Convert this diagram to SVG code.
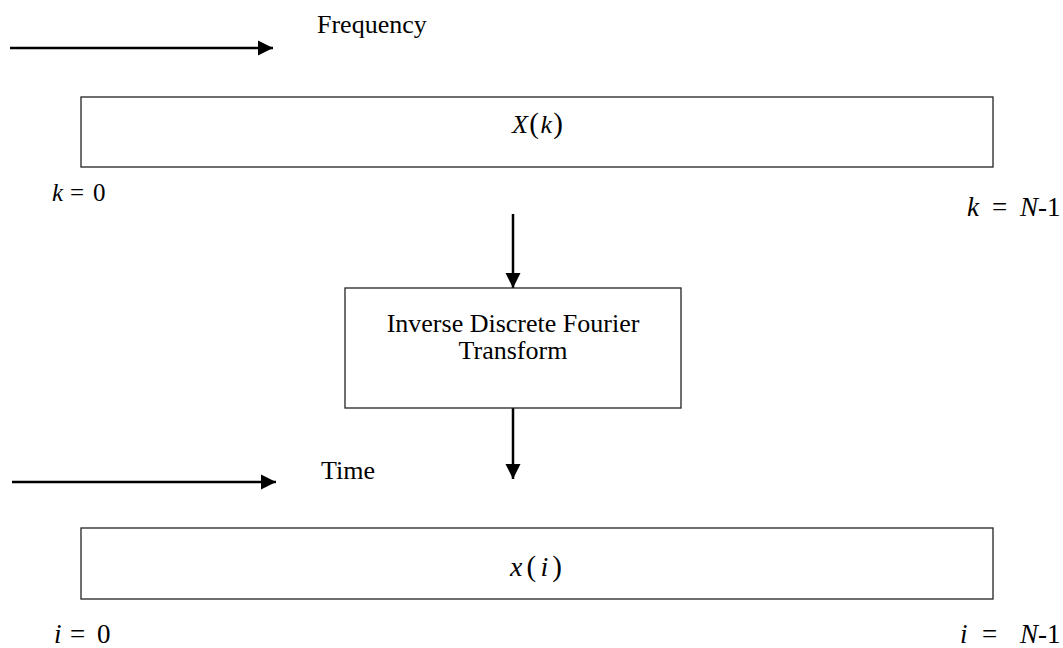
<svg xmlns="http://www.w3.org/2000/svg" width="1063" height="648" viewBox="0 0 1063 648">
<defs>
<style>
.t{font-family:"Liberation Serif","Times New Roman",serif;fill:#000;font-size:26px}
.m{font-family:"Liberation Serif","Times New Roman",serif;fill:#000}
.i{font-style:italic}
.p{font-size:29px}
.box{fill:#fff;stroke:#222;stroke-width:1.3}
.c{stroke:#000;stroke-width:2.5;fill:none}
</style>
<marker id="ah" markerWidth="16" markerHeight="16" refX="15" refY="7.5" orient="auto" markerUnits="userSpaceOnUse" viewBox="0 0 16 15">
<path d="M0,0 L15,7.5 L0,15 z" fill="#000"/>
</marker>
</defs>
<rect width="1063" height="648" fill="#fff"/>
<g id="connectors">
<line class="c" x1="10" y1="48" x2="273" y2="48" marker-end="url(#ah)"/>
<line class="c" x1="12" y1="482" x2="276" y2="482" marker-end="url(#ah)"/>
<line class="c" x1="513" y1="214" x2="513" y2="288" marker-end="url(#ah)"/>
<line class="c" x1="513" y1="408" x2="513" y2="479" marker-end="url(#ah)"/>
</g>
<g id="freq-label"><text class="t" x="317" y="33">Frequency</text></g>
<g id="time-label"><text class="t" x="321" y="479">Time</text></g>
<g id="Xk">
<rect class="box" x="81" y="97" width="912" height="70"/>
<text class="m" x="512" y="133" font-size="26" textLength="51" lengthAdjust="spacing"><tspan class="i">X</tspan><tspan class="p">(</tspan><tspan class="i">k</tspan><tspan class="p">)</tspan></text>
</g>
<g id="k0"><text class="m" y="201" font-size="25"><tspan class="i" x="52">k</tspan><tspan x="70">=</tspan><tspan x="93">0</tspan></text></g>
<g id="kN"><text class="m" y="216" font-size="27"><tspan class="i" x="967">k</tspan><tspan x="992">=</tspan><tspan class="i" x="1020">N</tspan><tspan>-1</tspan></text></g>
<g id="idft">
<rect class="box" x="345" y="288" width="336" height="120"/>
<text class="t" x="513" y="332" text-anchor="middle">Inverse Discrete Fourier</text>
<text class="t" x="513" y="359" text-anchor="middle">Transform</text>
</g>
<g id="xi">
<rect class="box" x="81" y="528" width="912" height="71"/>
<text class="m" x="510" y="576" font-size="28" textLength="52" lengthAdjust="spacing"><tspan class="i">x</tspan><tspan class="p">(</tspan><tspan class="i">i</tspan><tspan class="p">)</tspan></text>
</g>
<g id="i0"><text class="m" y="643" font-size="27"><tspan class="i" x="54">i</tspan><tspan x="70">=</tspan><tspan x="97">0</tspan></text></g>
<g id="iN"><text class="m" y="643" font-size="27"><tspan class="i" x="960">i</tspan><tspan x="982">=</tspan><tspan class="i" x="1020">N</tspan><tspan>-1</tspan></text></g>
</svg>
